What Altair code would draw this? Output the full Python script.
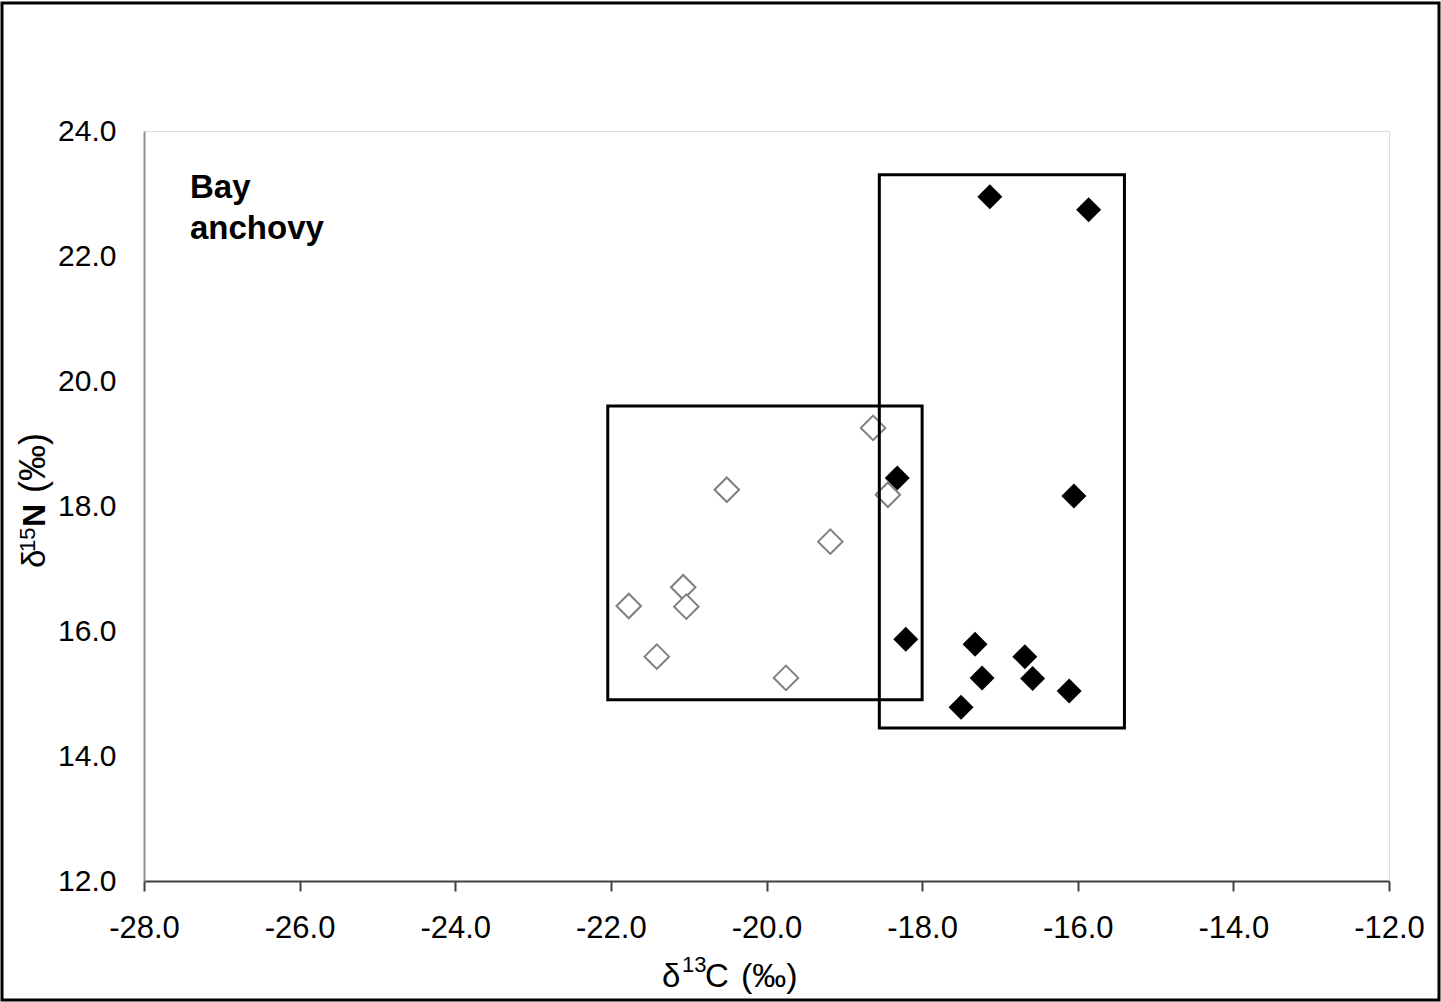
import altair as alt
import pandas as pd

# Stable isotope values (per mil)
open_d13c = [-18.63, -20.51, -18.44, -19.18, -21.07, -21.03, -21.77, -21.41, -19.75]
open_d15n = [19.25, 18.26, 18.18, 17.43, 16.70, 16.39, 16.40, 15.59, 15.25]
filled_d13c = [-17.13, -15.86, -18.32, -16.05, -18.21, -17.32, -16.68, -17.23, -16.58, -16.11, -17.50]
filled_d15n = [22.95, 22.74, 18.45, 18.16, 15.87, 15.79, 15.59, 15.25, 15.24, 15.04, 14.78]

# Range boxes around each group: x0, x1, y0, y1
box_open = [-22.04, -18.00, 14.90, 19.60]
box_filled = [-18.55, -15.40, 14.45, 23.30]

x_ticks = [-28, -26, -24, -22, -20, -18, -16, -14, -12]
y_ticks = [12, 14, 16, 18, 20, 22, 24]

W, H = 1245, 750
FONT = "Liberation Sans"

open_df = pd.DataFrame({"c": open_d13c, "n": open_d15n})
filled_df = pd.DataFrame({"c": filled_d13c, "n": filled_d15n})
boxes_df = pd.DataFrame([box_open, box_filled], columns=["x0", "x1", "y0", "y1"])

xscale = alt.Scale(domain=[-28, -12], nice=False, zero=False)
yscale = alt.Scale(domain=[12, 24], nice=False, zero=False)

minus_fix = "replace(format(datum.value, '.1f'), '\u2212', '-')"

x_axis = alt.Axis(
    values=x_ticks, labelExpr=minus_fix, title=None, grid=False,
    labelFlush=False, labelOverlap=False,
    domainColor="#404040", domainWidth=2, tickColor="#404040", tickWidth=2,
    tickSize=10, labelPadding=22, labelFont=FONT, labelFontSize=31,
    labelColor="black",
)
y_axis = alt.Axis(
    values=y_ticks, labelExpr=minus_fix, title=None, grid=False,
    labelFlush=False, labelOverlap=False,
    domainColor="#909090", domainWidth=2, ticks=False, tickSize=0,
    labelPadding=28, labelFont=FONT, labelFontSize=30, labelColor="black",
)

filled_pts = alt.Chart(filled_df).mark_point(
    shape="diamond", filled=True, color="black", size=625, opacity=1
).encode(
    x=alt.X("c:Q", scale=xscale, axis=x_axis),
    y=alt.Y("n:Q", scale=yscale, axis=y_axis),
)

open_pts = alt.Chart(open_df).mark_point(
    shape="diamond", filled=True, fill="white", stroke="#7f7f7f",
    strokeWidth=2, size=600, opacity=1
).encode(x=alt.X("c:Q", scale=xscale), y=alt.Y("n:Q", scale=yscale))

boxes = alt.Chart(boxes_df).mark_rect(
    fill=None, fillOpacity=0, stroke="black", strokeWidth=3
).encode(
    x=alt.X("x0:Q", scale=xscale), x2="x1:Q",
    y=alt.Y("y0:Q", scale=yscale), y2="y1:Q",
)

one = alt.Data(values=[{}])


def piece(text, x, y, size, weight="normal", angle=0):
    return alt.Chart(one).mark_text(
        text=text, font=FONT, fontSize=size, fontWeight=weight,
        align="left", baseline="alphabetic", angle=angle, color="black",
    ).encode(x=alt.value(x), y=alt.value(y))


# Offsets relative to the plot area's top-left corner
ox, oy = 144, 131
label = alt.Chart(one).mark_text(
    text=["Bay", "anchovy"], font=FONT, fontSize=33, fontWeight="bold",
    align="left", baseline="alphabetic", lineHeight=41, color="black",
).encode(x=alt.value(190 - ox), y=alt.value(198 - oy))

x_title = [
    piece("\u03b4", 662 - ox, 987 - oy, 33),
    piece("13", 682 - ox, 972 - oy, 22),
    piece("C", 705 - ox, 987 - oy, 33),
    piece("(\u2030)", 741 - ox, 987 - oy, 34),
]
y_title = [
    piece("\u03b4", 45 - ox, 568 - oy, 33, angle=270),
    piece("15", 35 - ox, 552 - oy, 22, angle=270),
    piece("N", 45 - ox, 527 - oy, 32, weight="bold", angle=270),
    piece("(\u2030)", 45 - ox, 493 - oy, 36, angle=270),
]

frame = alt.Chart(one).mark_rect(
    fill=None, fillOpacity=0, stroke="black", strokeWidth=3, clip=False
).encode(
    x=alt.value(2 - ox), x2=alt.value(1439 - ox),
    y=alt.value(3 - oy), y2=alt.value(1000 - oy),
)

chart = alt.layer(
    filled_pts, open_pts, boxes, label, *x_title, *y_title, frame
).properties(
    width=W, height=H,
    autosize=alt.AutoSizeParams(type="none"),
    padding={"left": ox, "top": oy, "right": 1441 - ox - W, "bottom": 1002 - oy - H},
).configure_view(
    stroke="#909090", strokeWidth=2
).configure(background="white")

chart.save("out.html", embed_options={"renderer": "svg", "actions": False})
